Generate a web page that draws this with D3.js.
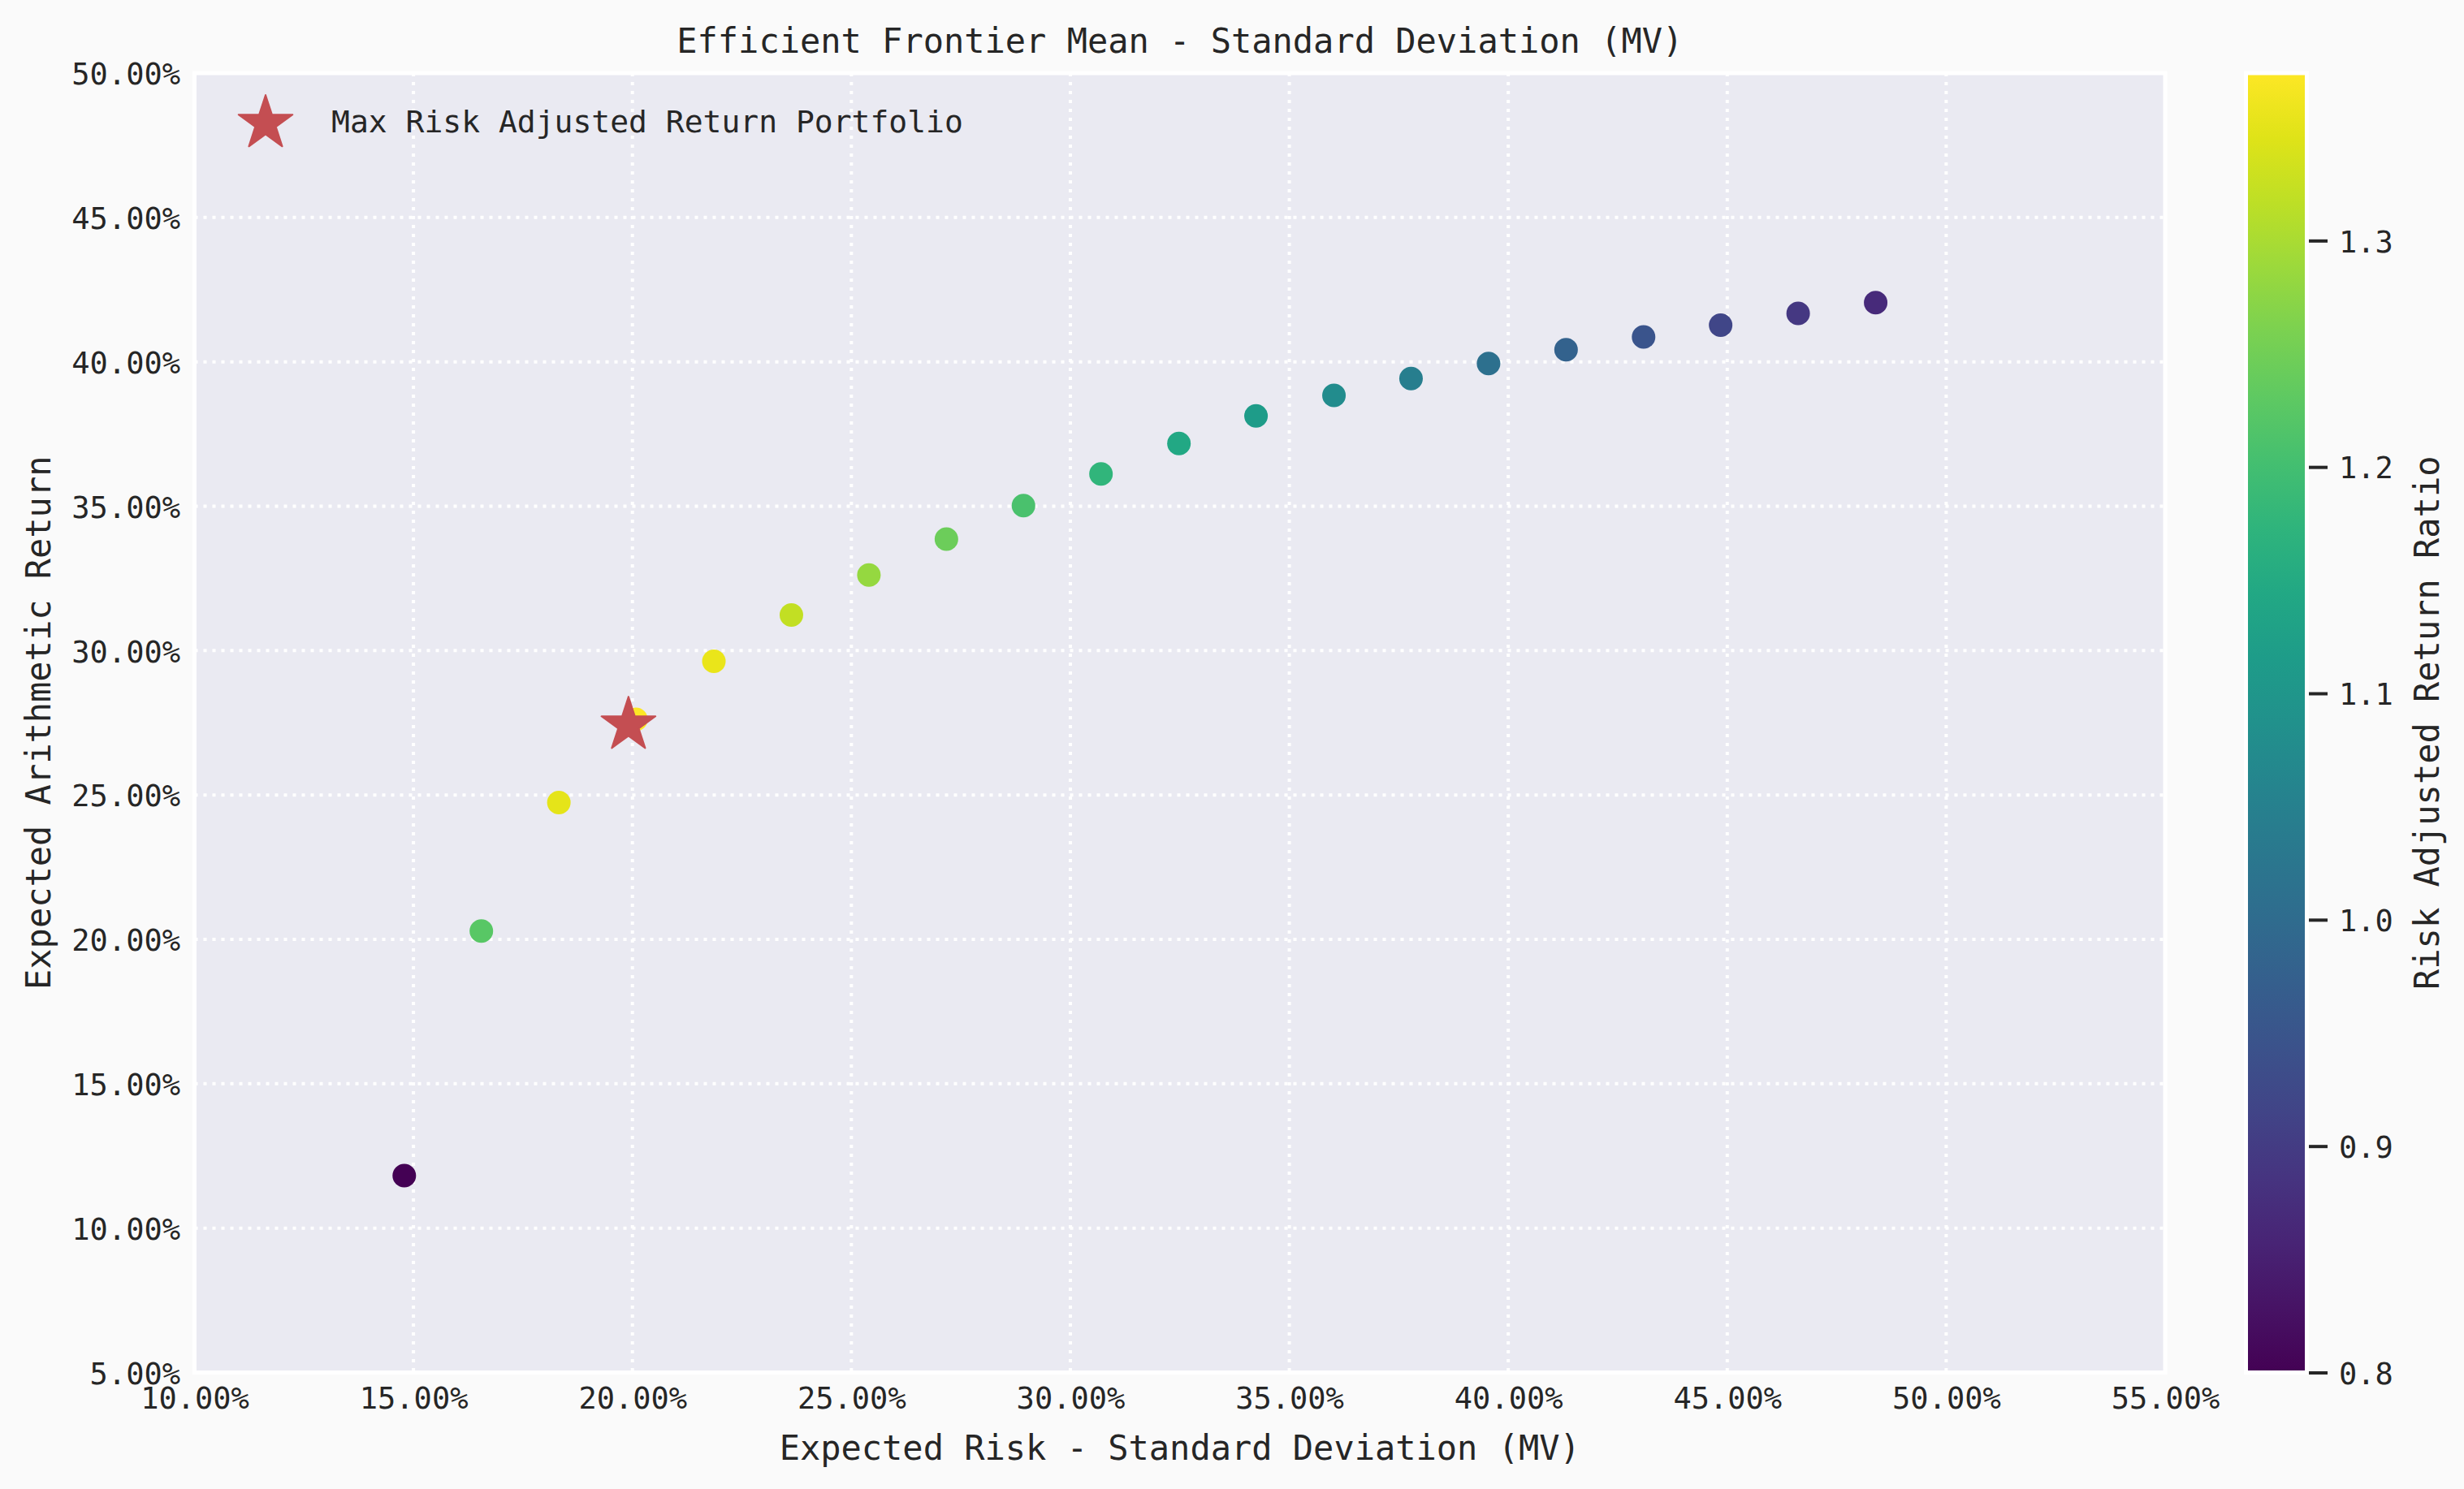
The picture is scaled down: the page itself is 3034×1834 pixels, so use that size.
<!DOCTYPE html>
<html>
<head>
<meta charset="utf-8">
<script src="https://cdn.jsdelivr.net/npm/d3@7"></script>
<style>
  body { margin: 0; background: #fafafa; }
  text { font-family: "DejaVu Sans Mono", monospace; fill: #262626; }
</style>
</head>
<body>
<div id="app"></div>
<script>
// Frontier portfolios (percent)
const risk = [14.79, 16.55, 18.32, 20.08, 21.86, 23.63, 25.40, 27.17, 28.93, 30.70,
              32.48, 34.24, 36.02, 37.78, 39.55, 41.32, 43.09, 44.85, 46.62, 48.39];
const ret = [11.82, 20.29, 24.74, 27.62, 29.63, 31.23, 32.62, 33.86, 35.02, 36.12,
             37.17, 38.13, 38.84, 39.42, 39.94, 40.42, 40.86, 41.27, 41.68, 42.05];
const ratio = [0.800, 1.226, 1.350, 1.374, 1.355, 1.322, 1.284, 1.246, 1.210, 1.176,
               1.144, 1.114, 1.078, 1.043, 1.010, 0.978, 0.948, 0.920, 0.894, 0.869];

// Max risk adjusted return portfolio (star)
const bestRisk = 19.91;
const bestRet = 27.42;

const xTicks = [10, 15, 20, 25, 30, 35, 40, 45, 50, 55];
const yTicks = [5, 10, 15, 20, 25, 30, 35, 40, 45, 50];
const cbTicks = [0.8, 0.9, 1.0, 1.1, 1.2, 1.3];

const W = 3034, H = 1834;
const plot = {left: 239.5, right: 2666, top: 90, bottom: 1690.5};
const cb = {left: 2765.5, right: 2840.5};

const svg = d3.select('#app').append('svg')
  .attr('width', W).attr('height', H);

svg.append('rect').attr('width', W).attr('height', H).attr('fill', '#fafafa');

const x = d3.scaleLinear().domain([10, 55]).range([plot.left, plot.right]);
const y = d3.scaleLinear().domain([5, 50]).range([plot.bottom, plot.top]);
const cExtent = d3.extent(ratio);
const color = d3.scaleSequential(d3.interpolateViridis).domain(cExtent);
const cy = d3.scaleLinear().domain(cExtent).range([plot.bottom, plot.top]);

// plot background
svg.append('rect')
  .attr('x', plot.left).attr('y', plot.top)
  .attr('width', plot.right - plot.left).attr('height', plot.bottom - plot.top)
  .attr('fill', '#eaeaf2');

// dotted white grid
const grid = svg.append('g')
  .attr('stroke', '#fff').attr('stroke-width', 4).attr('stroke-dasharray', '4 7');
grid.selectAll('.gx').data(xTicks.slice(1, -1)).join('line')
  .attr('x1', d => x(d)).attr('x2', d => x(d))
  .attr('y1', plot.top).attr('y2', plot.bottom);
grid.selectAll('.gy').data(yTicks.slice(1, -1)).join('line')
  .attr('y1', d => y(d)).attr('y2', d => y(d))
  .attr('x1', plot.left).attr('x2', plot.right);

// axes frame (white spines)
svg.append('rect')
  .attr('x', plot.left).attr('y', plot.top)
  .attr('width', plot.right - plot.left).attr('height', plot.bottom - plot.top)
  .attr('fill', 'none').attr('stroke', '#fff').attr('stroke-width', 5);

// frontier points
const pts = risk.map((r, i) => ({risk: r, ret: ret[i], ratio: ratio[i]}));
svg.append('g').selectAll('circle').data(pts).join('circle')
  .attr('cx', d => x(d.risk))
  .attr('cy', d => y(d.ret))
  .attr('r', 14.5)
  .attr('fill', d => color(d.ratio));

// star marker
const starPath = (R) => {
  const pts = [];
  for (let i = 0; i < 10; i++) {
    const rr = i % 2 === 0 ? R : R * 0.381966;
    const a = -Math.PI / 2 + i * Math.PI / 5;
    pts.push([rr * Math.cos(a), rr * Math.sin(a)]);
  }
  return d3.line()(pts) + 'Z';
};
const star = starPath(35);

svg.append('path')
  .attr('d', star)
  .attr('transform', `translate(${x(bestRisk)},${y(bestRet)})`)
  .attr('fill', '#c44e52').attr('stroke', '#c44e52')
  .attr('stroke-width', 2).attr('stroke-linejoin', 'round');

// legend
svg.append('path')
  .attr('d', star)
  .attr('transform', 'translate(327,152)')
  .attr('fill', '#c44e52').attr('stroke', '#c44e52')
  .attr('stroke-width', 2).attr('stroke-linejoin', 'round');
svg.append('text')
  .attr('x', 408).attr('y', 163)
  .style('font-size', '38px')
  .text('Max Risk Adjusted Return Portfolio');

// x axis tick labels
const xAxis = svg.append('g')
  .attr('transform', `translate(0,${plot.bottom})`)
  .call(d3.axisBottom(x).tickValues(xTicks)
    .tickFormat(d => d3.format('.2f')(d) + '%')
    .tickSize(0).tickPadding(18));
xAxis.select('.domain').remove();
xAxis.selectAll('text').style('font-size', '37px').attr('fill', '#262626');

// y axis tick labels
const yAxis = svg.append('g')
  .attr('transform', `translate(${plot.left},0)`)
  .call(d3.axisLeft(y).tickValues(yTicks)
    .tickFormat(d => d3.format('.2f')(d) + '%')
    .tickSize(0).tickPadding(17.5));
yAxis.select('.domain').remove();
yAxis.selectAll('text').style('font-size', '37px').attr('fill', '#262626').attr('dy', '0.37em');

// colorbar
const defs = svg.append('defs');
const grad = defs.append('linearGradient').attr('id', 'cbgrad')
  .attr('x1', 0).attr('y1', 1).attr('x2', 0).attr('y2', 0);
d3.range(0, 1.0001, 0.05).forEach(t => {
  grad.append('stop').attr('offset', t).attr('stop-color', d3.interpolateViridis(t));
});
svg.append('rect')
  .attr('x', cb.left).attr('y', plot.top)
  .attr('width', cb.right - cb.left).attr('height', plot.bottom - plot.top)
  .attr('fill', 'url(#cbgrad)')
  .attr('stroke', '#fff').attr('stroke-width', 5);

const cAxis = svg.append('g')
  .attr('transform', `translate(${cb.right + 2.5},0)`)
  .call(d3.axisRight(cy).tickValues(cbTicks)
    .tickFormat(d3.format('.1f'))
    .tickSize(23).tickPadding(14));
cAxis.select('.domain').remove();
cAxis.selectAll('line').attr('stroke', '#262626').attr('stroke-width', 4);
cAxis.selectAll('text').style('font-size', '37px').attr('fill', '#262626').attr('dy', '0.37em');

// titles and labels
svg.append('text')
  .attr('x', (plot.left + plot.right) / 2).attr('y', 65)
  .attr('text-anchor', 'middle').style('font-size', '42px')
  .text('Efficient Frontier Mean - Standard Deviation (MV)');

svg.append('text')
  .attr('x', (plot.left + plot.right) / 2).attr('y', 1798)
  .attr('text-anchor', 'middle').style('font-size', '42px')
  .text('Expected Risk - Standard Deviation (MV)');

svg.append('text')
  .attr('transform', `translate(62,${(plot.top + plot.bottom) / 2}) rotate(-90)`)
  .attr('text-anchor', 'middle').style('font-size', '42px')
  .text('Expected Arithmetic Return');

svg.append('text')
  .attr('transform', `translate(3003,${(plot.top + plot.bottom) / 2}) rotate(-90)`)
  .attr('text-anchor', 'middle').style('font-size', '42px')
  .text('Risk Adjusted Return Ratio');
</script>
</body>
</html>
